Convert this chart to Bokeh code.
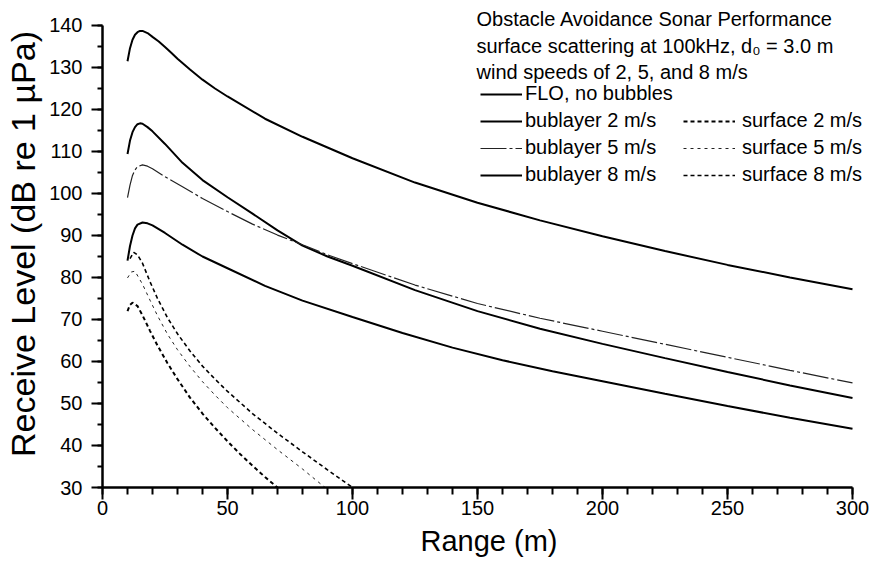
from bokeh.plotting import figure
from bokeh.models import Range1d, Legend, LegendItem, Label, FixedTicker
from bokeh.embed import file_html
from bokeh.resources import INLINE

# ---- data ----
flo_x = [10, 11, 12, 13, 14, 15, 16, 18, 20, 22.5, 25, 27.5, 30, 35, 40, 45, 50, 65, 80, 100,
         125, 150, 175, 200, 225, 250, 275, 300]
flo_y = [131.5, 134.6, 136.6, 137.8, 138.4, 138.7, 138.7, 138.2, 137.3, 136.2, 134.9, 133.5, 132.1,
         129.5, 127.1, 125.0, 123.1, 117.8, 113.5, 108.4, 102.6, 97.8, 93.6, 89.8, 86.3, 83.0, 80.0, 77.2]

bub2_x = [10, 11, 12, 13, 14, 15, 16, 18, 20, 25, 32, 40, 50, 60, 70, 80, 90, 100,
          125, 150, 175, 200, 225, 250, 275, 300]
bub2_y = [109.4, 112.6, 114.6, 115.8, 116.5, 116.7, 116.6, 115.8, 114.8, 111.8, 107.3, 103.2, 99.1,
          95.2, 91.2, 87.6, 85.0, 82.8, 77.0, 72.0, 67.8, 64.2, 60.8, 57.5, 54.3, 51.3]

bub5_x = [10, 11, 12, 13, 14, 16, 18, 20, 25, 32, 40, 50, 60, 70, 80, 90, 100,
          125, 150, 175, 200, 225, 250, 275, 300]
bub5_y = [99.0, 102.0, 104.3, 105.6, 106.4, 106.8, 106.5, 105.9, 104.0, 101.6, 98.8, 95.7, 92.7,
          90.1, 87.8, 85.4, 83.3, 78.2, 73.8, 70.3, 67.2, 64.1, 61.0, 57.9, 54.9]

bub8_x = [10, 11, 12, 13, 14, 16, 18, 20, 25, 32, 40, 50, 65, 80, 100, 120, 140, 160, 180,
          200, 225, 250, 275, 300]
bub8_y = [84.0, 87.5, 90.0, 91.7, 92.6, 93.1, 92.9, 92.4, 90.6, 87.8, 85.0, 82.2, 78.0, 74.5, 70.6,
          66.8, 63.3, 60.3, 57.7, 55.3, 52.3, 49.4, 46.6, 44.0]

surf8_x = [11, 12.5, 14, 16, 19, 22, 26, 30, 35, 40, 45, 50, 60, 70, 80, 90, 100]
surf8_y = [84.5, 86.0, 85.4, 83.4, 79.0, 75.0, 70.4, 66.6, 62.5, 58.9, 55.8, 52.9, 47.6, 42.9,
           38.5, 34.2, 30.0]

surf5_x = [10, 11.5, 13, 16, 19, 22, 26, 30, 35, 40, 45, 50, 60, 70, 80, 89]
surf5_y = [79.9, 81.3, 81.5, 78.4, 74.6, 70.9, 66.5, 62.8, 58.8, 55.2, 52.0, 49.0, 43.8, 39.0,
           34.4, 30.0]

surf2_x = [10, 11, 12, 14, 16, 19, 22, 26, 30, 35, 40, 45, 50, 55, 60, 65, 70]
surf2_y = [72.0, 73.5, 74.0, 73.2, 71.0, 67.3, 63.8, 59.6, 55.8, 51.4, 47.6, 44.2, 41.0, 38.0,
           35.2, 32.5, 30.0]

x_ticks = [0, 50, 100, 150, 200, 250, 300]
x_minor = list(range(0, 301, 10))
y_ticks = [30, 40, 50, 60, 70, 80, 90, 100, 110, 120, 130, 140]
y_minor = list(range(30, 141, 5))

title_lines = ["Obstacle Avoidance Sonar Performance",
               "surface scattering at 100kHz, d\u2080 = 3.0 m",
               "wind speeds of 2, 5, and 8 m/s"]

FONT = "Liberation Sans"

# frame spans the whole canvas to the right and top; axes are bounded to the data range
p = figure(width=875, height=564, x_range=Range1d(0, 309.2), y_range=Range1d(30, 145.95),
           output_backend="svg", toolbar_location=None,
           min_border_left=102, min_border_right=0, min_border_top=0, min_border_bottom=77)
p.outline_line_color = None
p.grid.visible = False
p.background_fill_color = "white"
p.border_fill_color = "white"

p.xaxis.ticker = FixedTicker(ticks=x_ticks, minor_ticks=x_minor)
p.yaxis.ticker = FixedTicker(ticks=y_ticks, minor_ticks=y_minor)
p.xaxis.bounds = (0, 300)
p.yaxis.bounds = (30, 140)
for ax in (p.xaxis[0], p.yaxis[0]):
    ax.axis_line_width = 2.5
    ax.axis_line_color = "black"
    ax.major_tick_line_width = 2
    ax.minor_tick_line_width = 2
    ax.major_tick_line_color = "black"
    ax.minor_tick_line_color = "black"
    ax.major_label_text_font = FONT
    ax.major_label_text_font_size = "20px"
    ax.major_label_text_color = "black"
    ax.axis_label_text_font = FONT
    ax.axis_label_text_font_style = "normal"
    ax.axis_label_text_color = "black"

p.xaxis.major_tick_out = 12
p.xaxis.major_tick_in = 0
p.xaxis.minor_tick_out = 7
p.xaxis.minor_tick_in = 0
p.xaxis.major_label_standoff = 1
p.xaxis.axis_label = "Range (m)"
p.xaxis.axis_label_text_font_size = "29px"
p.xaxis.axis_label_standoff = 7

p.yaxis.major_tick_out = 11
p.yaxis.major_tick_in = 0
p.yaxis.minor_tick_out = 5
p.yaxis.minor_tick_in = 0
p.yaxis.major_label_standoff = 9
p.yaxis.axis_label = "Receive Level (dB re 1 \u00b5Pa)"
p.yaxis.axis_label_text_font_size = "34px"
p.yaxis.axis_label_standoff = 4

# curves
r_flo = p.line(flo_x, flo_y, line_color="black", line_width=2)
r_b2 = p.line(bub2_x, bub2_y, line_color="black", line_width=2)
r_b5 = p.line(bub5_x, bub5_y, line_color="#222222", line_width=1.2, line_dash="26 3 3 3")
r_b8 = p.line(bub8_x, bub8_y, line_color="black", line_width=2)
r_s2 = p.line(surf2_x, surf2_y, line_color="black", line_width=2, line_dash="4 3")
r_s5 = p.line(surf5_x, surf5_y, line_color="#222222", line_width=1, line_dash="3 4")
r_s8 = p.line(surf8_x, surf8_y, line_color="black", line_width=1.6, line_dash="4 3")

leg_common = dict(border_line_color=None, background_fill_alpha=0, padding=0, margin=0,
                  label_text_font=FONT, label_text_font_size="20px", label_text_color="black",
                  glyph_height=22, label_height=22, spacing=4)

leg_left = Legend(items=[LegendItem(label="FLO, no bubbles", renderers=[r_flo]),
                         LegendItem(label="bublayer 2 m/s", renderers=[r_b2]),
                         LegendItem(label="bublayer 5 m/s", renderers=[r_b5]),
                         LegendItem(label="bublayer 8 m/s", renderers=[r_b8])],
                  location=(378, 301), glyph_width=42, label_standoff=3, **leg_common)
leg_right = Legend(items=[LegendItem(label="surface 2 m/s", renderers=[r_s2]),
                          LegendItem(label="surface 5 m/s", renderers=[r_s5]),
                          LegendItem(label="surface 8 m/s", renderers=[r_s8])],
                   location=(581, 301), glyph_width=52, label_standoff=7, **leg_common)
p.add_layout(leg_left)
p.add_layout(leg_right)

title_y = [468.7, 442.0, 415.3]
for t, ty in zip(title_lines, title_y):
    p.add_layout(Label(x=374, y=ty, x_units="screen", y_units="screen",
                       text=t, text_font=FONT, text_font_size="20px", text_color="black",
                       text_baseline="middle", text_align="left"))

open("out.html", "w").write(file_html(p, INLINE))
